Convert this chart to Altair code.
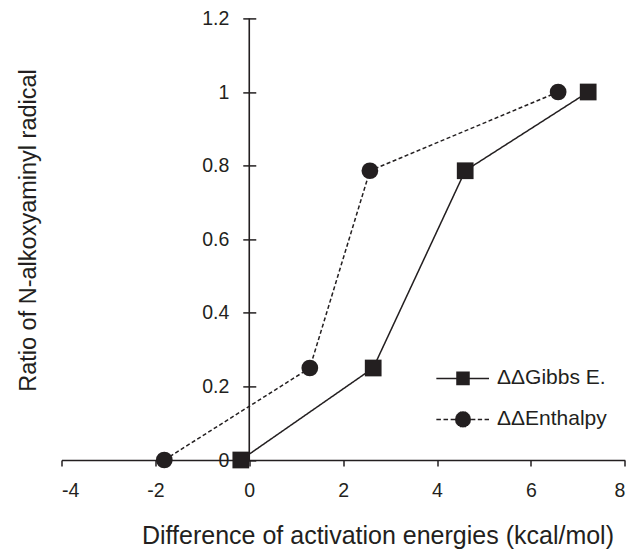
import math

import altair as alt
import pandas as pd

# Measured points for the two activation-energy differences
gibbs_x = [-0.18, 2.64, 4.60, 7.22]
gibbs_y = [0.0, 0.25, 0.786, 1.0]
enthalpy_x = [-1.81, 1.29, 2.57, 6.58]
enthalpy_y = [0.0, 0.25, 0.786, 1.0]
series_names = ["ΔΔGibbs E.", "ΔΔEnthalpy"]

x_ticks = [-4, -2, 0, 2, 4, 6, 8]
y_ticks = [0, 0.2, 0.4, 0.6, 0.8, 1, 1.2]

INK = "#231f20"
FONT = "Liberation Sans"
LINE_W = 1.5

df = pd.DataFrame(
    {
        "x": gibbs_x + enthalpy_x,
        "y": gibbs_y + enthalpy_y,
        "series": [series_names[0]] * len(gibbs_x) + [series_names[1]] * len(enthalpy_x),
    }
)

# plot-area geometry
W, H = 563.3, 441.6
PAD_L, PAD_T = 61.5, 18.4
PAD_R, PAD_B = 631 - PAD_L - W, 553 - PAD_T - H
X0_PX = W * 4 / 12          # where x = 0 sits inside the plot
Y_AXIS_SHIFT = X0_PX + 6.5  # ticks straddle the vertical axis line

x_enc = alt.X(
    "x:Q",
    scale=alt.Scale(domain=[-4, 8], nice=False, zero=False),
    axis=alt.Axis(
        values=x_ticks,
        labelExpr="datum.value < 0 ? '-' + abs(datum.value) : '' + datum.value",
        title="Difference of activation energies (kcal/mol)",
        titleX=316,
        titleY=83,
        titleAlign="center",
        titleBaseline="alphabetic",
        titleFontSize=25,
        titleFontWeight="normal",
        labelFontSize=19.5,
        labelPadding=15,
        tickSize=6,
        tickWidth=1.5,
        domainWidth=1.6,
        grid=False,
    ),
)

y_enc = alt.Y(
    "y:Q",
    scale=alt.Scale(domain=[0, 1.2], nice=False, zero=False),
    axis=alt.Axis(
        values=y_ticks,
        format="~g",
        domain=False,
        offset=-Y_AXIS_SHIFT,
        tickSize=13,
        tickWidth=1.5,
        labelPadding=14,
        labelFontSize=19.5,
        title="Ratio of N-alkoxyaminyl radical",
        titleX=28 - (PAD_L + Y_AXIS_SHIFT),
        titleY=211.6,
        titleAngle=270,
        titleAlign="center",
        titleBaseline="middle",
        titleFontSize=23.5,
        titleFontWeight="normal",
        grid=False,
    ),
)

base = alt.Chart(df)

lines = base.mark_line(color=INK, strokeWidth=LINE_W).encode(
    x=x_enc,
    y=y_enc,
    strokeDash=alt.StrokeDash(
        "series:N",
        scale=alt.Scale(domain=series_names, range=[[1, 0], [4, 2.5]]),
        legend=None,
    ),
)

points = base.mark_point(filled=True, size=280, color=INK, opacity=1).encode(
    x=x_enc,
    y=y_enc,
    shape=alt.Shape(
        "series:N",
        scale=alt.Scale(domain=series_names, range=["square", "circle"]),
        legend=None,
    ),
)


# Legend glyphs drawn purely with strokes: a line segment plus a marker that
# is shaded solid by closely spaced horizontal strokes.
def _f(v):
    return f"{v:.3f}".rstrip("0").rstrip(".")


def hatched_square(half):
    parts = []
    n = 11
    for i in range(n):
        yy = -half + (i + 0.5) * (2 * half / n)
        parts.append(f"M{_f(-half)},{_f(yy)}H{_f(half)}")
    return "".join(parts)


def hatched_circle(r):
    ro = r - 0.04
    parts = [f"M{_f(ro)},0A{_f(ro)},{_f(ro)},0,1,1,{_f(-ro)},0"
             f"A{_f(ro)},{_f(ro)},0,1,1,{_f(ro)},0"]
    n = 12
    for i in range(n):
        yy = -r + (i + 0.5) * (2 * r / n)
        hx = math.sqrt(max(r * r - yy * yy, 0.0))
        parts.append(f"M{_f(-hx)},{_f(yy)}H{_f(hx)}")
    return "".join(parts)


gibbs_glyph = "M-2.05,0H-0.5M0.5,0H2" + hatched_square(0.52)
enthalpy_glyph = (
    "M-2.05,0H-1.7M-1.5,0H-1.15M-0.95,0H-0.6"
    "M0.62,0H0.95M1.14,0H1.47M1.66,0H2"
    + hatched_circle(0.6)
)

legend_layer = (
    base.transform_filter("datum.y < -1")
    .mark_point(filled=False, color=INK, strokeWidth=LINE_W, size=676, opacity=1)
    .encode(
        x=x_enc,
        y=y_enc,
        shape=alt.Shape(
            "series:N",
            scale=alt.Scale(domain=series_names, range=[gibbs_glyph, enthalpy_glyph]),
            legend=alt.Legend(
                title=None,
                orient="none",
                legendX=387.5,
                legendY=346,
                padding=0,
                rowPadding=17,
                labelOffset=20,
                labelFontSize=21,
                labelColor=INK,
                labelFont=FONT,
                symbolSize=676,
                symbolStrokeWidth=LINE_W,
            ),
        ),
    )
)

axis_line_df = pd.DataFrame({"x": [0], "y": [0], "y2": [1.2]})
y_axis_line = (
    alt.Chart(axis_line_df)
    .mark_rule(color=INK, strokeWidth=1.6)
    .encode(x=x_enc, y=y_enc, y2="y2:Q")
)

chart = (
    alt.layer(y_axis_line, lines, points, legend_layer)
    .resolve_scale(shape="independent")
    .properties(
        width=W,
        height=H,
        padding={"left": PAD_L, "top": PAD_T, "right": PAD_R, "bottom": PAD_B},
        autosize=alt.AutoSizeParams(type="none"),
        background="white",
    )
    .configure_view(stroke=None)
    .configure_axis(
        labelFont=FONT,
        titleFont=FONT,
        labelColor=INK,
        titleColor=INK,
        tickColor=INK,
        domainColor=INK,
    )
    .configure_legend(labelFont=FONT)
)

chart.save("out.html", embed_options={"renderer": "svg", "actions": False})
